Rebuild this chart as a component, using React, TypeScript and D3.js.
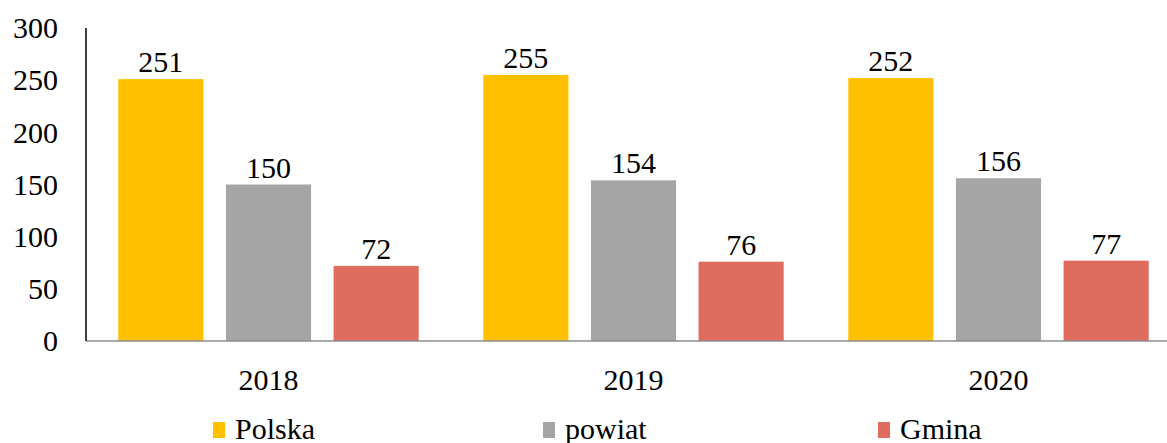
import React from "react";
import * as d3 from "d3";

const years = ["2018", "2019", "2020"];
const seriesNames = ["Polska", "powiat", "Gmina"];
const polska = [251, 255, 252];
const powiat = [150, 154, 156];
const gmina = [72, 76, 77];
const yTicks = [0, 50, 100, 150, 200, 250, 300];
const colors = ["#FFC000", "#A5A5A5", "#E06C5F"];

const W = 1167;
const H = 443;
const FONT = "'Liberation Serif', 'Times New Roman', serif";

export default function App() {
  const x0 = 86;
  const x1 = 86 + 365 * 3;
  const yScale = d3.scaleLinear().domain([0, 300]).range([341, 28]);
  const xOuter = d3.scaleBand().domain(years).range([x0, x1]).paddingInner(0).paddingOuter(0);
  const xInner = d3
    .scaleBand()
    .domain(seriesNames)
    .range([0, xOuter.bandwidth()])
    .paddingInner(0.209)
    .paddingOuter(0.3);
  const values = [polska, powiat, gmina];
  const legendX = [213, 543, 878];

  return (
    <svg
      width={W}
      height={H}
      style={{ position: "absolute", left: 0, top: 0, background: "#fff" }}
      fontFamily={FONT}
    >
      {yTicks.map((t) => (
        <text key={t} x={58} y={yScale(t)} dy="0.34em" textAnchor="end" fontSize={30} fill="#000">
          {t}
        </text>
      ))}
      {years.map((yr, i) => (
        <g key={yr}>
          {seriesNames.map((s, j) => {
            const v = values[j][i];
            const bx = (xOuter(yr) as number) + (xInner(s) as number);
            const bw = xInner.bandwidth();
            return (
              <g key={s}>
                <rect x={bx} y={yScale(v)} width={bw} height={yScale(0) - yScale(v)} fill={colors[j]} />
                <text x={bx + bw / 2} y={yScale(v) - 7} textAnchor="middle" fontSize={30} fill="#000">
                  {v}
                </text>
              </g>
            );
          })}
          <text
            x={(xOuter(yr) as number) + xOuter.bandwidth() / 2}
            y={390}
            textAnchor="middle"
            fontSize={30}
            fill="#000"
          >
            {yr}
          </text>
        </g>
      ))}
      <line x1={x0} x2={W} y1={yScale(0)} y2={yScale(0)} stroke="#8c8c8c" strokeWidth={1.5} />
      <line x1={x0} x2={x0} y1={yScale(300)} y2={yScale(0)} stroke="#000" strokeWidth={1.5} />
      {seriesNames.map((s, j) => (
        <g key={s}>
          <rect x={legendX[j]} y={422} width={12} height={16} fill={colors[j]} />
          <text x={legendX[j] + 22} y={439} fontSize={30} fill="#000">
            {s}
          </text>
        </g>
      ))}
    </svg>
  );
}
